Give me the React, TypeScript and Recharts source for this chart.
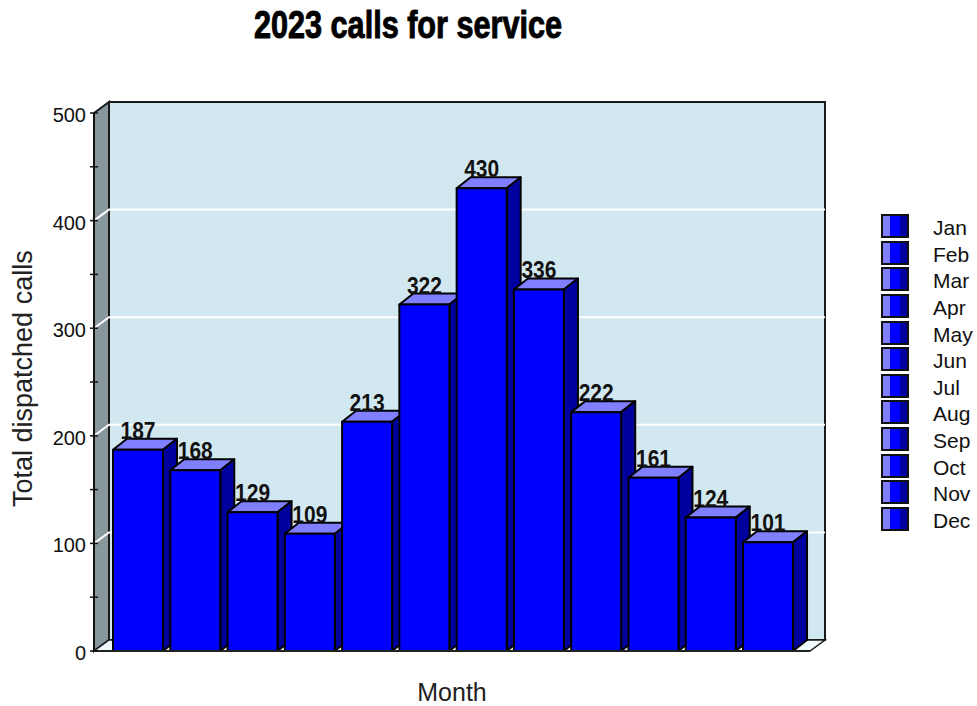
import { BarChart, Bar, XAxis, YAxis, CartesianGrid, LabelList } from "recharts";

const months = ["Jan", "Feb", "Mar", "Apr", "May", "Jun", "Jul", "Aug", "Sep", "Oct", "Nov", "Dec"];
const calls = [187, 168, 129, 109, 213, 322, 430, 336, 222, 161, 124, 101];
const yTicks = [0, 50, 100, 150, 200, 250, 300, 350, 400, 450, 500];
const gridValues = [100, 200, 300, 400];

const data = months.map((month, i) => ({ month, calls: calls[i] }));

const FONT = '"Liberation Sans", Arial, sans-serif';
const DX = 15;
const DY = 11;
const LEFT = 94;
const RIGHT = 810;
const TOP = 113;
const BOTTOM = 651;

// back wall, side wall and floor, sits in its own svg behind the chart
function Walls() {
  return (
    <svg width={977} height={706} style={{ position: "absolute", left: 0, top: 0 }}>
      <rect x={LEFT + DX} y={TOP - DY} width={RIGHT - LEFT} height={BOTTOM - TOP} fill="#d1e8f0" stroke="#1a1a1a" strokeWidth={2} />
      <polygon
        points={`${LEFT},${TOP} ${LEFT + DX},${TOP - DY} ${LEFT + DX},${BOTTOM - DY} ${LEFT},${BOTTOM}`}
        fill="#87979b"
        stroke="#1a1a1a"
        strokeWidth={2}
      />
      <polygon
        points={`${LEFT},${BOTTOM} ${LEFT + DX},${BOTTOM - DY} ${RIGHT + DX},${BOTTOM - DY} ${RIGHT},${BOTTOM}`}
        fill="#f0fafc"
        stroke="#1a1a1a"
        strokeWidth={1.5}
      />
    </svg>
  );
}

function Box3D({ x, y, width, height }: any) {
  const dx = 14;
  const dy = 11;
  return (
    <g stroke="#000" strokeWidth={2} strokeLinejoin="round">
      <polygon points={`${x},${y} ${x + dx},${y - dy} ${x + width + dx},${y - dy} ${x + width},${y}`} fill="#7f7fff" />
      <polygon
        points={`${x + width},${y} ${x + width + dx},${y - dy} ${x + width + dx},${y + height - dy} ${x + width},${y + height}`}
        fill="#00009e"
      />
      <rect x={x} y={y} width={width} height={height} fill="#0000ff" />
    </g>
  );
}

function GridLine({ x1, x2, y1 }: any) {
  return (
    <polyline
      points={`${x1},${y1} ${x1 + DX},${y1 - DY} ${x2 + DX},${y1 - DY}`}
      fill="none"
      stroke="#ffffff"
      strokeWidth={2}
    />
  );
}

function YTick({ y, payload }: any) {
  const major = payload.value % 100 === 0;
  return (
    <g>
      <line x1={LEFT - 4} x2={LEFT + 4} y1={y} y2={y} stroke="#111" strokeWidth={1.5} />
      {major && (
        <text x={LEFT - 8} y={y + 9} textAnchor="end" fontFamily={FONT} fontSize={20} fill="#111">
          {payload.value}
        </text>
      )}
    </g>
  );
}

function ValueLabel({ x, y, width, value }: any) {
  return (
    <text
      x={x + width / 2}
      y={y - 11}
      textAnchor="middle"
      textLength={35}
      lengthAdjust="spacingAndGlyphs"
      fontFamily={FONT}
      fontWeight="bold"
      fontSize={24}
      fill="#111"
    >
      {value}
    </text>
  );
}

function MonthLegend() {
  return (
    <div style={{ position: "absolute", left: 881, top: 213, width: 96, fontFamily: FONT, fontSize: 21, color: "#111" }}>
      {months.map((m) => (
        <div key={m} style={{ display: "flex", alignItems: "center", height: 26.6 }}>
          <div
            style={{
              boxSizing: "border-box",
              width: 28,
              height: 24,
              border: "2px solid #111",
              background: "linear-gradient(90deg, #7f7fff 0 7px, #0000ff 7px 17px, #00009e 17px)",
            }}
          />
          <span style={{ marginLeft: 24, position: "relative", top: 2 }}>{m}</span>
        </div>
      ))}
    </div>
  );
}

export default function App() {
  return (
    <div style={{ position: "absolute", left: 0, top: 0, width: 977, height: 706, background: "#fff" }}>
      <Walls />
      <BarChart
        width={977}
        height={706}
        data={data}
        margin={{ top: TOP, right: 977 - RIGHT, bottom: 0, left: 0 }}
      >
        <CartesianGrid vertical={false} horizontalValues={gridValues} horizontal={(p: any) => <GridLine key={p.key} {...p} />} />
        <text
          x={408}
          y={38}
          textAnchor="middle"
          textLength={308}
          lengthAdjust="spacingAndGlyphs"
          fontFamily={FONT}
          fontWeight="bold"
          fontSize={39}
          fill="#000"
          stroke="#000"
          strokeWidth={1}
        >
          2023 calls for service
        </text>
        <XAxis
          dataKey="month"
          tick={false}
          tickLine={false}
          height={55}
          padding={{ left: 15, right: 13.7 }}
          axisLine={{ stroke: "#222", strokeWidth: 2 }}
          label={{ value: "Month", position: "insideBottom", offset: 5, fontFamily: FONT, fontSize: 25, fill: "#222" }}
        />
        <YAxis
          domain={[0, 500]}
          ticks={yTicks}
          interval={0}
          width={LEFT}
          tick={<YTick />}
          tickLine={false}
          axisLine={{ stroke: "#111", strokeWidth: 2 }}
          label={{ value: "Total dispatched calls", angle: -90, position: "insideLeft", fontFamily: FONT, fontSize: 27, fill: "#222", dx: 17, dy: 125 }}
        />
        <Bar dataKey="calls" barSize={50} shape={<Box3D />} isAnimationActive={false}>
          <LabelList dataKey="calls" content={<ValueLabel />} />
        </Bar>
      </BarChart>
      <MonthLegend />
    </div>
  );
}
